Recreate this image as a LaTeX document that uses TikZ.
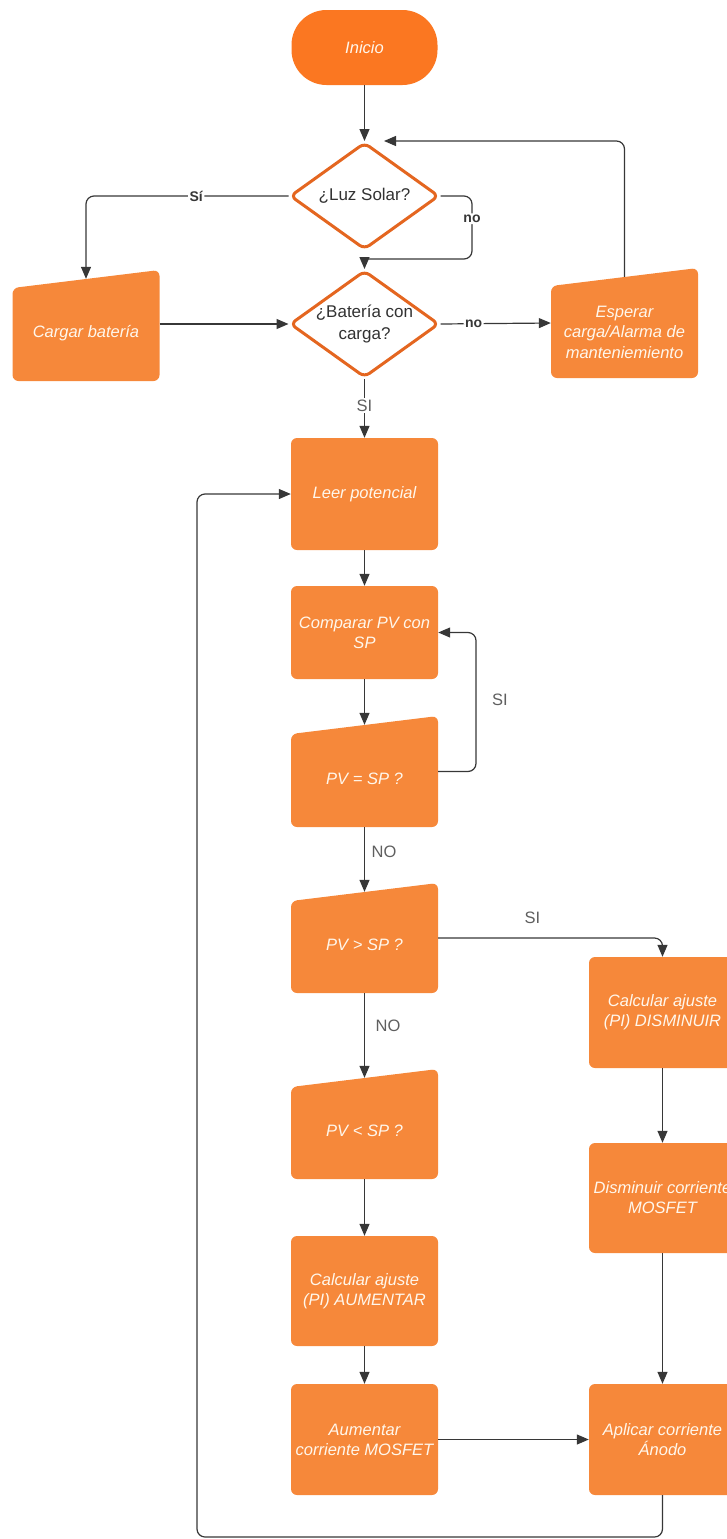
\documentclass[tikz,border=0pt]{standalone}
\usepackage{fontspec}
\setmainfont{Liberation Sans}
\usetikzlibrary{arrows.meta,shapes.geometric,calc,positioning}
\definecolor{boxfill}{RGB}{246,136,58}
\definecolor{startfill}{RGB}{251,119,33}
\definecolor{dborder}{RGB}{228,102,32}
\definecolor{boxtext}{RGB}{255,247,236}
\definecolor{edgec}{RGB}{55,55,55}
\definecolor{lblgray}{RGB}{95,95,95}
\definecolor{dtext}{RGB}{50,50,50}
\tikzset{
  procbox/.style={rectangle, rounded corners=6pt, fill=boxfill, minimum width=147pt,
    minimum height=#1, inner sep=2pt, text=boxtext, align=center,
    font=\itshape\fontsize{16.5}{20}\selectfont},
  minbox/.style={rectangle, minimum width=147pt, minimum height=#1, inner sep=0pt,
    path picture={\fill[boxfill, rounded corners=6pt]
      (path picture bounding box.south west) --
      ([yshift=-18pt]path picture bounding box.north west) --
      (path picture bounding box.north east) --
      (path picture bounding box.south east) -- cycle;}},
  btext/.style={text=boxtext, align=center, inner sep=0pt,
    font=\itshape\fontsize{16.5}{20.5}\selectfont},
  startbox/.style={rectangle, rounded corners=35pt, fill=startfill, minimum width=146pt,
    minimum height=75pt, text=boxtext, font=\itshape\fontsize{16.5}{20}\selectfont},
  decision/.style={diamond, draw=dborder, line width=3pt, fill=white, rounded corners=6pt,
    minimum width=149pt, minimum height=107pt, inner sep=0pt},
  dtxt/.style={text=dtext, align=center, inner sep=0pt, font=\fontsize{17}{21.5}\selectfont},
  conn/.style={draw=edgec, line width=1.2pt, -{Triangle[length=12pt,width=10pt]}, rounded corners=8pt},
  lblb/.style={fill=white, text=edgec, inner sep=1.5pt, font=\bfseries\fontsize{14}{16}\selectfont},
  lblg/.style={text=lblgray, inner sep=1.5pt, font=\fontsize{16.5}{18}\selectfont},
}
\begin{document}
\begin{tikzpicture}[x=1pt,y=-1pt]
\useasboundingbox (0,0) rectangle (727,1539);
% start
\node[startbox] (inicio) at (364.5,47.5) {Inicio};
% decisions
\node[decision] (luz) at (364.5,196) {};
\node[dtxt] (luzT) at (luz.center) {¿Luz Solar?};
\node[decision] (bat) at (364.5,324) {};
\node[dtxt] (batT) at (bat.center) {¿Batería con\\carga?};
% manual input boxes
\node[minbox=111pt] (carg) at (86,325.5) {};
\node[btext] (cargT) at ([yshift=-8pt]carg.center) {Cargar batería};
\node[minbox=110pt] (esp) at (624.5,323) {};
\node[btext] (espT) at ([yshift=-9pt]esp.center) {Esperar\\carga/Alarma de\\manteniemiento};
\node[minbox=111pt] (pveq) at (364.5,771.5) {};
\node[btext] (pveqT) at ([yshift=-7pt]pveq.center) {PV = SP ?};
\node[minbox=110pt] (pvgt) at (364.5,938) {};
\node[btext] (pvgtT) at ([yshift=-7pt]pvgt.center) {PV > SP ?};
\node[minbox=110pt] (pvlt) at (364.5,1124) {};
\node[btext] (pvltT) at ([yshift=-7pt]pvlt.center) {PV < SP ?};
% process boxes
\node[procbox=112pt] (leer) at (364.5,494) {Leer potencial};
\node[procbox=93pt] (comp) at (364.5,632.5) {Comparar PV con\\SP};
\node[procbox=111pt] (calcD) at (662.5,1012.5) {Calcular ajuste\\(PI) DISMINUIR};
\node[procbox=110pt] (dismM) at (662.5,1198) {Disminuir corriente\\MOSFET};
\node[procbox=110pt] (calcA) at (364.5,1291) {Calcular ajuste\\(PI) AUMENTAR};
\node[procbox=111pt] (aumM) at (364.5,1439.5) {Aumentar\\corriente MOSFET};
\node[procbox=111pt] (apl) at (662.5,1439.5) {Aplicar corriente\\Ánodo};
% helper coordinates
\coordinate (luzin) at (384,141);
\coordinate (sloop) at (476,700);
\coordinate (bloop) at (197,1537);
% connectors
\draw[conn] (inicio.south) -- (luz.north);
\draw[conn] (luz.west) -| node[pos=0.228, lblb] {Sí} ([yshift=-9pt]carg.north);
\draw[conn] (luz.east) -- (472,196) -- node[pos=0.36, lblb] {no} (472,259) [sharp corners] -- (364.5,259) -- (bat.north);
\draw[conn] (carg.east |- bat.west) -- (bat.west);
\draw[conn] (bat.east) -- node[pos=0.3, lblb] {no} (esp.west);
\draw[conn] ([yshift=-9pt]esp.north) |- (luzin);
\draw[conn] (bat.south) -- node[pos=0.45, lblg, fill=white] {SI} (leer.north);
\draw[conn] (leer.south) -- (comp.north);
\draw[conn] (comp.south) -- ([yshift=-9pt]pveq.north);
\draw[conn] (pveq.east) -| (sloop) node[lblg, right=14pt] {SI} |- (comp.east);
\draw[conn] (pveq.south) -- node[pos=0.38, lblg, right=5pt] {NO} ([yshift=-9pt]pvgt.north);
\draw[conn] (pvgt.east) -| node[pos=0.21, lblg, above=12pt] {SI} (calcD.north);
\draw[conn] (pvgt.south) -- node[pos=0.38, lblg, right=9pt] {NO} ([yshift=-9pt]pvlt.north);
\draw[conn] (pvlt.south) -- (calcA.north);
\draw[conn] (calcA.south) -- (aumM.north);
\draw[conn] (calcD.south) -- (dismM.north);
\draw[conn] (dismM.south) -- (apl.north);
\draw[conn] (aumM.east) -- (apl.west);
\draw[conn] (apl.south) |- (bloop) |- (leer.west);
\end{tikzpicture}
\end{document}
